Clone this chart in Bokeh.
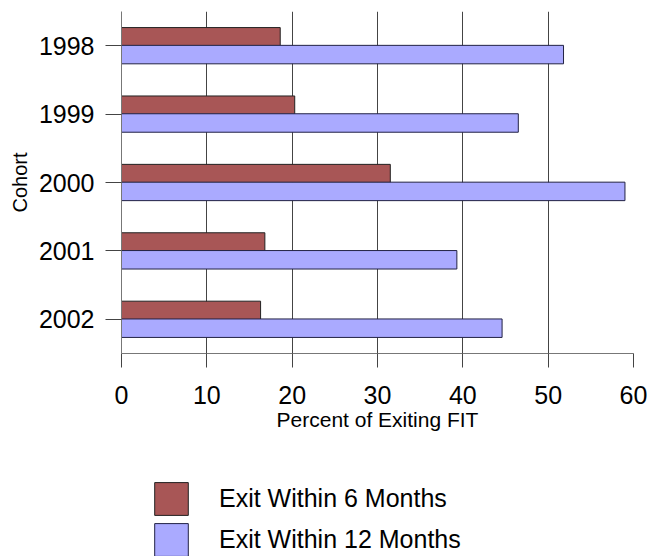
from bokeh.plotting import figure
from bokeh.layouts import column
from bokeh.models import Range1d, FactorRange, ColumnDataSource, Legend, LegendItem, FixedTicker
from bokeh.transform import dodge
from bokeh.embed import file_html
from bokeh.resources import INLINE

cohorts = ["1998", "1999", "2000", "2001", "2002"]
exit_6 = [18.6, 20.3, 31.5, 16.8, 16.3]
exit_12 = [51.8, 46.5, 59.0, 39.3, 44.6]
x_ticks = [0, 10, 20, 30, 40, 50, 60]
series_names = ["Exit Within 6 Months", "Exit Within 12 Months"]
series_colors = ["#A85656", "#AAAAFF"]
series_lines = ["#222222", "#222244"]

FONT = "Liberation Sans"

src = ColumnDataSource(dict(cohort=cohorts, e6=exit_6, e12=exit_12))

p = figure(width=647, height=440, output_backend="svg", toolbar_location=None,
           x_range=Range1d(0, 60), y_range=FactorRange(factors=cohorts[::-1]),
           min_border_left=121, min_border_right=14, min_border_top=11, min_border_bottom=87)
p.y_range.range_padding = 0
p.outline_line_color = None
p.background_fill_color = "white"

p.hbar(y=dodge("cohort", 0.13, range=p.y_range), right="e6", left=0, height=0.27, source=src,
       fill_color=series_colors[0], line_color=series_lines[0], line_width=1)
p.hbar(y=dodge("cohort", -0.13, range=p.y_range), right="e12", left=0, height=0.27, source=src,
       fill_color=series_colors[1], line_color=series_lines[1], line_width=1)

# grid
p.ygrid.grid_line_color = None
p.xgrid.grid_line_color = "#444444"
p.xgrid.grid_line_width = 1
p.xgrid.ticker = FixedTicker(ticks=x_ticks)

# x axis
xa = p.xaxis[0]
xa.ticker = FixedTicker(ticks=x_ticks)
xa.minor_tick_line_color = None
xa.major_tick_in = 0
xa.major_tick_out = 14
xa.major_tick_line_color = "#444444"
xa.axis_line_color = "#777777"
xa.major_label_text_font = FONT
xa.major_label_text_font_size = "25px"
xa.major_label_text_color = "black"
xa.major_label_standoff = 18
xa.axis_label = "Percent of Exiting FIT"
xa.axis_label_text_font = FONT
xa.axis_label_text_font_size = "21px"
xa.axis_label_text_font_style = "normal"
xa.axis_label_text_color = "black"
xa.axis_label_standoff = 1

# y axis
ya = p.yaxis[0]
ya.major_tick_in = 0
ya.major_tick_out = 16
ya.major_tick_line_color = "#444444"
ya.axis_line_color = "#777777"
ya.major_label_text_font = FONT
ya.major_label_text_font_size = "25px"
ya.major_label_text_color = "black"
ya.major_label_standoff = 11
ya.axis_label = "Cohort"
ya.axis_label_text_font = FONT
ya.axis_label_text_font_size = "20px"
ya.axis_label_text_font_style = "normal"
ya.axis_label_text_color = "black"
ya.axis_label_standoff = 5

# legend figure
p2 = figure(width=647, height=116, output_backend="svg", toolbar_location=None,
            x_range=Range1d(0, 1), y_range=Range1d(0, 1),
            x_axis_location=None, y_axis_location=None,
            min_border_left=0, min_border_right=0, min_border_top=0, min_border_bottom=0)
p2.outline_line_color = None
p2.grid.visible = False
items = []
nan = float("nan")
for name, fc, lc in zip(series_names, series_colors, series_lines):
    r = p2.hbar(y=[nan], right=[nan], left=0, height=0.1, fill_color=fc, line_color=lc, line_width=1)
    items.append(LegendItem(label=name, renderers=[r]))

legend = Legend(items=items, location=(29, -4), orientation="vertical",
                glyph_width=42, glyph_height=41, spacing=0, label_standoff=27,
                label_text_font=FONT, label_text_font_size="25px", label_text_color="black",
                padding=0, margin=0, border_line_alpha=0, background_fill_alpha=0)
p2.add_layout(legend, "center")

layout = column(p, p2, spacing=0)
open("out.html", "w").write(file_html(layout, INLINE))
